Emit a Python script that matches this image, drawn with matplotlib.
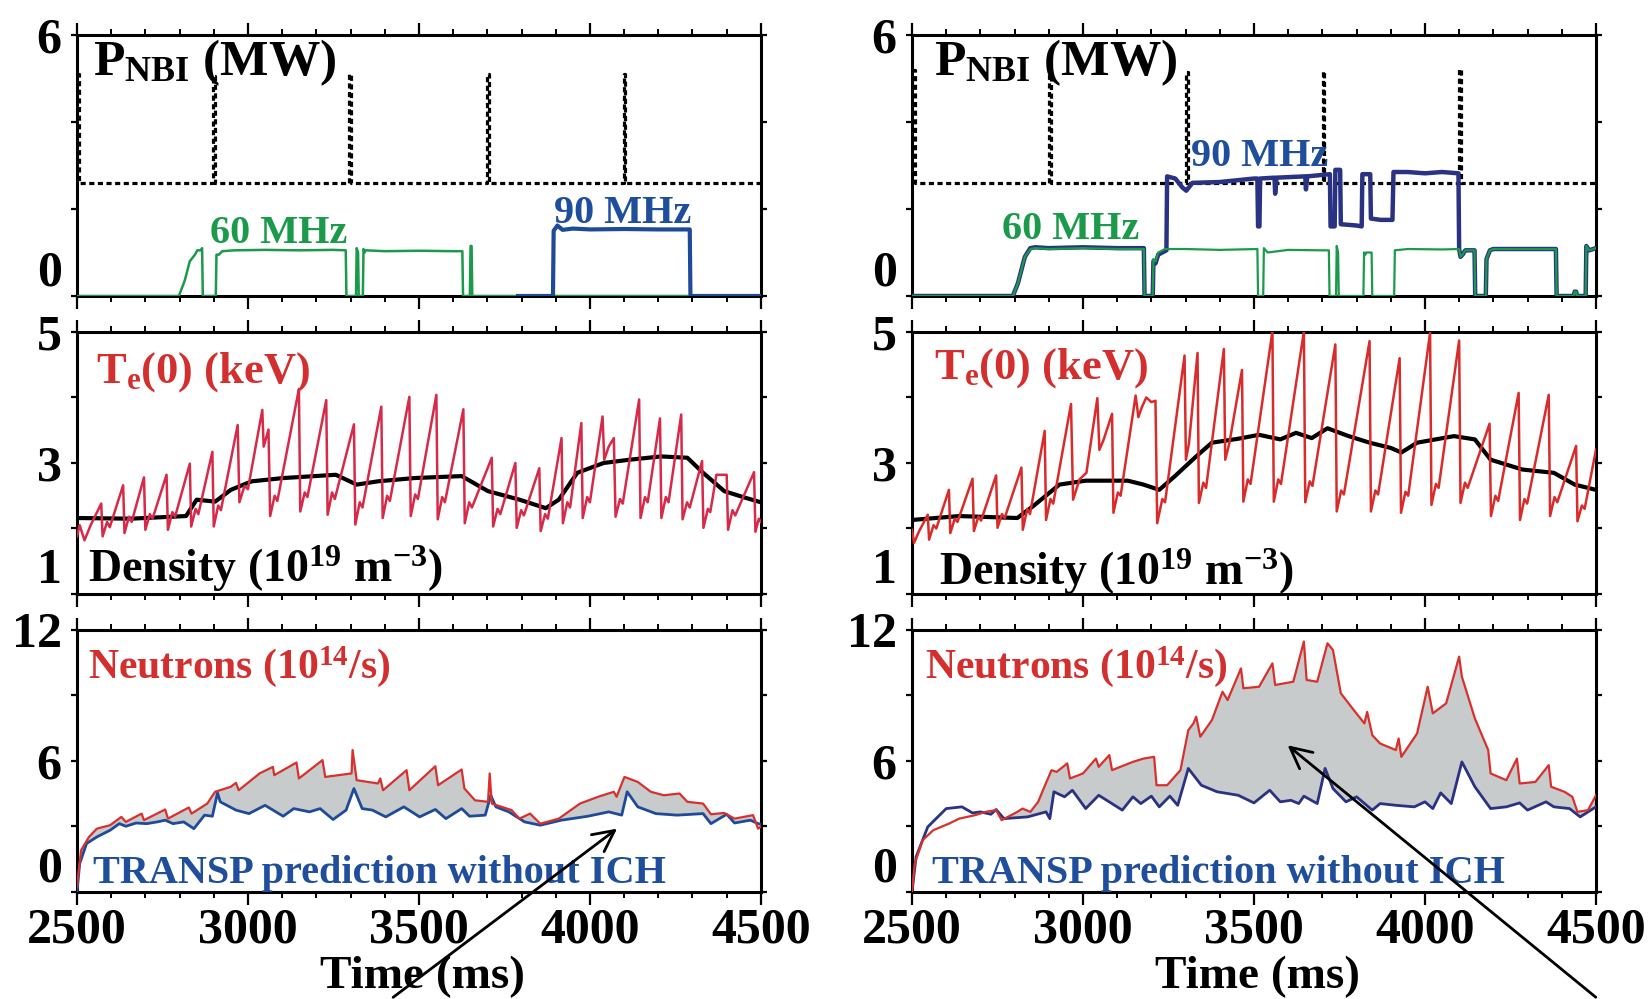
import numpy as np
import matplotlib
matplotlib.use('Agg')
import matplotlib.pyplot as plt
from matplotlib.ticker import MultipleLocator

plt.rcParams['font.family'] = ['Liberation Serif', 'DejaVu Serif']
plt.rcParams['font.weight'] = 'bold'
plt.rcParams['mathtext.fontset'] = 'custom'
plt.rcParams['mathtext.rm'] = 'Liberation Serif:bold'
plt.rcParams['mathtext.it'] = 'Liberation Serif:bold'
plt.rcParams['mathtext.bf'] = 'Liberation Serif:bold'

# ---------------- data (time in ms) ----------------
# NBI power (MW)
nbi_left_t = [2500, 2506, 2506, 2899, 2899, 2905, 2905, 3296, 3296, 3302, 3302, 3699, 3699, 3704, 3704, 4099, 4099, 4104, 4104, 4500]
nbi_left_p = [5.1, 5.1, 2.6, 2.6, 5.05, 5.05, 2.6, 2.6, 5.1, 5.1, 2.6, 2.6, 5.1, 5.1, 2.6, 2.6, 5.1, 5.1, 2.6, 2.6]
nbi_right_t = [2500, 2508, 2508, 2901, 2901, 2906, 2906, 3301, 3301, 3306, 3306, 3701, 3701, 3706, 3706, 4100, 4100, 4106, 4106, 4500]
nbi_right_p = [5.2, 5.2, 2.6, 2.6, 5.2, 5.2, 2.6, 2.6, 5.15, 5.15, 2.6, 2.6, 5.18, 5.18, 2.6, 2.6, 5.22, 5.22, 2.6, 2.6]

# 60 MHz ICH power (MW)
rf60_left_t = [2500, 2798, 2815, 2830, 2845, 2852, 2862, 2866, 2868, 2906, 2908, 2915, 2925, 2960, 3050, 3150, 3250, 3286, 3288, 3316,
               3318, 3322, 3324, 3336, 3338, 3341, 3345, 3400, 3500, 3600, 3627, 3629, 3649, 3651, 3654, 3656, 4500]
rf60_left_p = [0, 0, 0.35, 0.8, 0.95, 1.05, 1.05, 1.1, 0, 0, 0.95, 0.95, 1.03, 1.05, 1.06, 1.05, 1.06, 1.05, 0, 0,
               1.1, 1.0, 0, 0, 1.08, 1.0, 1.05, 1.03, 1.04, 1.03, 1.03, 0, 0, 1.15, 1.15, 0, 0]
rf60_right_t = [2500, 2795, 2810, 2830, 2846, 2860, 2900, 3000, 3100, 3178, 3180, 3204, 3206, 3212, 3220, 3240, 3300, 3400, 3510, 3512,
                3527, 3529, 3540, 3600, 3700, 3719, 3721, 3740, 3742, 3746, 3748, 3820, 3822, 3826, 3828, 3844, 3846, 3910, 3912, 3950,
                4050, 4100, 4104, 4110, 4118, 4145, 4147, 4178, 4180, 4190, 4200, 4300, 4383, 4385, 4435, 4438, 4442, 4445, 4470, 4472,
                4480, 4500]
rf60_right_p = [0, 0, 0.3, 0.9, 1.08, 1.1, 1.08, 1.1, 1.08, 1.08, 0, 0, 0.85, 0.8, 1.0, 1.08, 1.08, 1.06, 1.08, 0,
                0, 1.1, 1.0, 1.06, 1.05, 1.05, 0, 0, 1.15, 1.0, 0, 0, 1.0, 0.95, 1.0, 1.0, 0, 0, 1.05, 1.08,
                1.07, 1.08, 0.9, 0.95, 1.05, 1.05, 0, 0, 0.85, 1.05, 1.08, 1.08, 1.08, 0, 0, 0.1, 0.1, 0, 0, 1.15,
                1.05, 1.1]

# 90 MHz ICH power (MW)
rf90_left_t = [3790, 3892, 3894, 3905, 3920, 3950, 4000, 4100, 4200, 4292, 4294, 4500]
rf90_left_p = [0, 0, 1.5, 1.62, 1.52, 1.55, 1.53, 1.54, 1.53, 1.53, 0, 0]
rf90_right_t = [2500, 2795, 2810, 2830, 2846, 2860, 2900, 3000, 3100, 3178, 3180, 3204, 3206, 3212, 3220, 3244, 3246, 3270, 3290, 3302,
                3320, 3400, 3500, 3510, 3512, 3516, 3518, 3560, 3562, 3566, 3650, 3652, 3656, 3722, 3724, 3736, 3738, 3752, 3754, 3800,
                3815, 3817, 3840, 3842, 3870, 3905, 3908, 3950, 4000, 4050, 4098, 4100, 4104, 4110, 4118, 4145, 4147, 4178, 4180, 4190,
                4200, 4300, 4383, 4385, 4435, 4438, 4442, 4445, 4470, 4472, 4480, 4500]
rf90_right_p = [0, 0, 0.3, 0.9, 1.1, 1.12, 1.1, 1.12, 1.1, 1.1, 0, 0, 0.8, 0.75, 0.95, 1.05, 2.75, 2.7, 2.5, 2.42,
                2.6, 2.62, 2.7, 2.7, 1.6, 1.6, 2.7, 2.72, 2.35, 2.72, 2.75, 2.45, 2.75, 2.8, 1.6, 1.6, 2.9, 2.9, 1.65, 1.62,
                1.6, 2.8, 2.8, 1.78, 1.75, 1.75, 2.85, 2.85, 2.82, 2.85, 2.82, 1.08, 0.9, 0.95, 1.05, 1.05, 0, 0, 0.85, 1.05,
                1.08, 1.08, 1.08, 0, 0, 0.1, 0.1, 0, 0, 1.15, 1.05, 1.1]

# Central electron temperature Te(0) (keV)
te_left_t = [2500, 2508, 2514, 2522, 2540, 2571, 2575, 2588, 2596, 2635, 2639, 2652, 2660, 2696, 2700, 2713, 2721, 2762,
             2766, 2779, 2787, 2830, 2834, 2847, 2855, 2896, 2900, 2913, 2921, 2970, 2975, 2990, 3000, 3042,
             3046, 3060, 3065, 3078, 3086, 3149, 3153, 3166, 3174, 3229, 3233, 3246, 3254, 3310,
             3314, 3327, 3335, 3390, 3394, 3407, 3415, 3472, 3476, 3489, 3497, 3551, 3555, 3568, 3576, 3630,
             3634, 3647, 3655, 3713, 3717, 3730, 3738, 3782, 3786, 3799, 3807, 3852, 3856, 3869, 3877, 3917,
             3921, 3934, 3942, 3975, 3979, 3992, 4000, 4037, 4042, 4055, 4070, 4075, 4088, 4096, 4144,
             4148, 4161, 4169, 4205, 4209, 4222, 4230, 4267, 4271, 4284, 4292, 4328,
             4332, 4345, 4352, 4370, 4400, 4404, 4417, 4425, 4480, 4484, 4494, 4500]
te_left_v = [1.88, 2.05, 1.95, 1.82, 2.05, 2.38, 1.88, 2.10, 2.02, 2.66, 1.93, 2.18, 2.10, 2.78, 1.98, 2.22, 2.15, 2.82,
             1.98, 2.25, 2.18, 2.99, 2.03, 2.30, 2.22, 3.17, 2.03, 2.35, 2.28, 3.58, 2.40, 2.65, 2.60, 3.81,
             3.25, 3.51, 2.19, 2.50, 2.42, 4.13, 2.26, 2.55, 2.48, 3.96, 2.21, 2.55, 2.45, 3.59,
             2.06, 2.40, 2.32, 3.86, 2.16, 2.50, 2.42, 4.01, 2.19, 2.52, 2.45, 4.04, 2.14, 2.48, 2.40, 3.82,
             2.08, 2.40, 2.32, 3.08, 2.03, 2.30, 2.22, 3.00, 2.01, 2.28, 2.20, 2.92, 1.96, 2.22, 2.15, 3.38,
             2.08, 2.40, 2.32, 3.61, 2.16, 2.48, 2.40, 3.71, 3.05, 3.25, 3.38, 2.18, 2.45, 2.38, 3.97,
             2.16, 2.48, 2.40, 3.68, 2.16, 2.48, 2.40, 3.74, 2.14, 2.40, 2.32, 3.03,
             2.01, 2.30, 2.25, 2.82, 2.82, 1.98, 2.28, 2.20, 2.86, 1.95, 2.15, 2.10]
te_right_t = [2500, 2506, 2520, 2530, 2546, 2550, 2563, 2571, 2608, 2612, 2625, 2633, 2677, 2681, 2694, 2702, 2746,
              2750, 2763, 2771, 2820, 2824, 2837, 2845, 2888, 2892, 2905, 2913, 2965, 2971, 2990, 3010, 3042,
              3048, 3060, 3085, 3089, 3102, 3110, 3154, 3162, 3172, 3185, 3200, 3212, 3217, 3232, 3240, 3297,
              3301, 3310, 3335, 3339, 3352, 3360, 3412, 3416, 3428, 3465, 3469, 3482, 3490, 3554,
              3558, 3571, 3579, 3646, 3650, 3663, 3671, 3738, 3742, 3755, 3763, 3838, 3842, 3855, 3863, 3926,
              3930, 3943, 3951, 4015, 4019, 4032, 4040, 4100, 4104, 4117, 4125, 4189, 4193, 4206, 4214, 4274,
              4278, 4291, 4299, 4362, 4366, 4379, 4387, 4442, 4446, 4459, 4467, 4500]
te_right_v = [1.98, 1.78, 1.95, 2.05, 2.21, 1.83, 2.05, 2.00, 2.59, 1.93, 2.15, 2.10, 2.76, 1.96, 2.18, 2.12, 2.81,
              2.01, 2.22, 2.16, 2.93, 1.98, 2.30, 2.22, 3.49, 2.13, 2.45, 2.38, 3.90, 2.44, 2.75, 2.85, 3.99,
              3.20, 3.35, 3.75, 2.24, 2.55, 2.50, 4.03, 3.70, 3.85, 4.00, 3.93, 3.95, 2.08, 2.45, 2.40, 4.64,
              3.05, 3.30, 4.68, 2.39, 2.70, 2.62, 4.74, 3.05, 3.30, 4.42, 2.41, 2.75, 2.68, 5.01,
              2.41, 2.75, 2.68, 5.01, 2.40, 2.72, 2.65, 4.81, 2.26, 2.58, 2.52, 4.86, 2.26, 2.58, 2.52, 4.60,
              2.24, 2.56, 2.50, 4.99, 2.36, 2.68, 2.62, 4.87, 2.39, 2.70, 2.62, 3.60, 2.19, 2.50, 2.42, 4.07,
              2.13, 2.45, 2.38, 4.04, 2.19, 2.48, 2.40, 3.26, 2.11, 2.35, 2.30, 3.20]

# Line-averaged density (1e19 m^-3)
dens_left_t = [2500, 2658, 2819, 2850, 2904, 2950, 3011, 3103, 3257, 3318, 3380, 3487, 3625, 3702, 3794, 3871, 3909,
               3963, 4040, 4116, 4208, 4285, 4331, 4393, 4454, 4500]
dens_left_v = [2.16, 2.15, 2.19, 2.44, 2.41, 2.59, 2.72, 2.77, 2.82, 2.67, 2.72, 2.77, 2.80, 2.57, 2.44, 2.31, 2.44,
               2.85, 3.00, 3.05, 3.10, 3.08, 2.85, 2.57, 2.47, 2.40]
dens_right_t = [2500, 2638, 2808, 2854, 2931, 3008, 3131, 3177, 3223, 3269, 3331, 3377, 3454, 3515, 3577, 3623, 3669,
                3715, 3777, 3838, 3900, 3931, 3977, 4085, 4146, 4192, 4285, 4377, 4438, 4500]
dens_right_v = [2.13, 2.19, 2.16, 2.34, 2.67, 2.73, 2.73, 2.67, 2.59, 2.80, 3.10, 3.31, 3.37, 3.43, 3.36, 3.46, 3.38,
                3.53, 3.41, 3.31, 3.23, 3.16, 3.31, 3.41, 3.36, 3.05, 2.90, 2.85, 2.67, 2.59]

# Neutron rate (1e14 /s): measured and TRANSP prediction without ICH
neut_left_t = [2500, 2512, 2535, 2558, 2597, 2630, 2643, 2689, 2696, 2758, 2766, 2827, 2835, 2881, 2904, 2950, 2965, 2973,
               3034, 3073, 3077, 3142, 3149, 3218, 3226, 3303, 3306, 3318, 3380, 3387, 3395, 3464, 3472, 3548, 3556, 3625,
               3633, 3664, 3702, 3707, 3713, 3771, 3794, 3825, 3855, 3909, 3971, 4024, 4070, 4078, 4101, 4140, 4178, 4216,
               4262, 4285, 4331, 4354, 4393, 4423, 4477, 4492, 4500]
neut_left_v = [0.23, 1.91, 2.52, 2.90, 3.06, 3.44, 3.21, 3.59, 3.29, 3.78, 3.36, 3.87, 3.59, 4.05, 4.59, 4.82, 5.00, 4.66,
               5.43, 5.73, 5.35, 5.93, 5.20, 6.04, 5.27, 5.43, 6.50, 5.12, 4.97, 5.20, 4.66, 5.58, 4.66, 5.76, 4.89, 5.61,
               4.74, 4.20, 4.13, 5.43, 4.05, 3.75, 3.36, 3.59, 3.13, 3.36, 4.05, 4.36, 4.59, 4.36, 5.27, 5.04, 4.59, 4.43,
               4.51, 4.13, 4.05, 3.56, 3.62, 3.36, 3.52, 2.90, 3.00]
transp_left_t = [2500, 2508, 2528, 2558, 2597, 2624, 2643, 2673, 2704, 2735, 2758, 2781, 2812, 2842, 2873, 2896, 2911, 2919,
                 2965, 3003, 3050, 3103, 3134, 3180, 3211, 3249, 3287, 3310, 3334, 3364, 3403, 3456, 3502, 3548, 3579,
                 3625, 3648, 3694, 3710, 3725, 3763, 3809, 3855, 3917, 3994, 4055, 4093, 4109, 4140, 4193, 4255, 4331,
                 4354, 4400, 4423, 4469, 4492, 4500]
transp_left_v = [0.0, 1.30, 2.22, 2.52, 2.83, 3.13, 3.01, 3.16, 3.13, 3.21, 3.29, 3.13, 3.21, 2.90, 3.52, 3.47, 4.54, 4.13,
                 3.75, 3.59, 3.97, 3.47, 3.82, 3.67, 3.82, 3.32, 3.75, 4.74, 3.82, 3.75, 3.44, 3.90, 3.44, 3.78, 3.36,
                 3.82, 3.47, 3.52, 4.43, 3.90, 3.67, 3.21, 3.06, 3.29, 3.47, 3.67, 3.52, 4.59, 3.90, 3.59, 3.52, 3.59,
                 3.13, 3.56, 3.16, 3.29, 3.13, 3.10]
neut_right_t = [2500, 2508, 2531, 2562, 2608, 2638, 2685, 2715, 2746, 2762, 2808, 2823, 2846, 2869, 2885, 2908, 2923, 2954,
                2962, 3000, 3038, 3046, 3077, 3085, 3146, 3177, 3208, 3215, 3246, 3285, 3308, 3323, 3331, 3343, 3377,
                3408, 3423, 3462, 3469, 3515, 3554, 3562, 3615, 3646, 3654, 3685, 3715, 3731, 3754, 3792, 3823, 3831,
                3846, 3869, 3915, 3923, 3931, 3977, 4008, 4023, 4062, 4100, 4108, 4146, 4185, 4192, 4238, 4269, 4277,
                4323, 4362, 4369, 4408, 4431, 4446, 4477, 4500]
neut_right_v = [0.0, 1.30, 2.37, 2.83, 3.13, 3.36, 3.52, 3.67, 3.75, 3.29, 3.67, 3.82, 3.67, 4.13, 4.74, 5.58, 5.50, 5.89,
                5.20, 5.43, 6.11, 5.73, 6.27, 5.58, 5.96, 6.11, 6.19, 4.89, 4.89, 5.58, 7.41, 7.72, 8.03, 7.11, 7.87,
                9.17, 8.79, 10.24, 9.33, 9.40, 10.47, 9.48, 9.63, 11.47, 9.71, 9.63, 11.39, 11.08, 9.10, 8.33, 7.72, 8.25,
                7.18, 6.80, 6.50, 7.03, 6.19, 7.26, 9.40, 8.18, 8.64, 10.78, 9.86, 7.95, 6.50, 5.43, 5.12, 6.11, 4.97,
                5.04, 5.81, 4.82, 4.59, 4.36, 3.67, 3.75, 4.43]
transp_right_t = [2500, 2512, 2546, 2600, 2646, 2677, 2700, 2731, 2746, 2769, 2838, 2892, 2903, 2915, 2946, 2969, 3008,
                  3046, 3115, 3146, 3169, 3200, 3223, 3254, 3277, 3308, 3346, 3392, 3454, 3500, 3546, 3577, 3608, 3631,
                  3646, 3685, 3708, 3731, 3769, 3800, 3846, 3869, 3915, 3969, 4000, 4023, 4046, 4077, 4108, 4146, 4192,
                  4238, 4277, 4300, 4354, 4377, 4423, 4454, 4500]
transp_right_v = [0.0, 1.61, 2.98, 3.82, 3.90, 3.62, 3.67, 3.56, 3.78, 3.36, 3.44, 3.67, 3.36, 4.59, 4.36, 4.66, 3.82,
                  4.43, 3.75, 4.36, 4.05, 4.39, 3.90, 4.39, 3.97, 5.66, 4.89, 4.59, 4.43, 4.08, 4.66, 4.13, 4.20, 4.05,
                  4.39, 4.05, 5.66, 4.74, 4.13, 4.36, 3.75, 4.05, 3.97, 3.90, 4.13, 3.82, 4.54, 4.05, 5.96, 4.82, 3.82,
                  3.90, 4.08, 3.75, 4.13, 3.90, 3.82, 3.44, 3.90]

x_ticks = [2500, 3000, 3500, 4000, 4500]
x_labels = ['2500', '3000', '3500', '4000', '4500']

# ---------------- colours ----------------
C_GREEN = '#1a9a4a'
C_BLUE_L = '#1f4a9a'
C_BLUE_R = '#2a3283'
C_RED_TE_L = '#d62a48'
C_RED_TE_R = '#da2b2b'
C_RED = '#d8302c'
C_TXT_RED = '#d42f2f'
C_TXT_BLUE = '#1f4e9c'
C_FILL = '#c8cbcb'

fig = plt.figure(figsize=(16.48, 9.99), dpi=100)
lefts = [0.0467, 0.5534]
W = 0.415
rows = [(0.7037, 0.2613), (0.4054, 0.2623), (0.1071, 0.2623)]
axes = [[fig.add_axes([l, b, W, h]) for l in lefts] for (b, h) in rows]


def style(ax, ylim, yticks, ylabels, bottom_labels):
    ax.set_xlim(2500, 4500)
    ax.set_ylim(*ylim)
    ax.set_xticks(x_ticks)
    ax.set_xticklabels(x_labels)
    ax.xaxis.set_minor_locator(MultipleLocator(100))
    ax.set_yticks(yticks)
    ax.set_yticklabels(ylabels)
    ax.tick_params(axis='x', which='major', direction='out', length=9, width=1.6,
                   top=True, bottom=True, labelsize=36, pad=2)
    ax.tick_params(axis='x', which='minor', direction='out', length=4, width=1.4,
                   top=True, bottom=True)
    ax.tick_params(axis='y', which='major', direction='out', length=4, width=1.6,
                   left=True, right=True, labelsize=36, pad=7)
    if not bottom_labels:
        ax.tick_params(axis='x', labelbottom=False)
    for sp in ax.spines.values():
        sp.set_linewidth(2.2)
    lbls = ax.get_yticklabels()
    lbls[0].set_va('bottom')


# ---- top row: power ----
for j, (nt, npow, gt, gp, bt, bp, bcol, blw) in enumerate([
        (nbi_left_t, nbi_left_p, rf60_left_t, rf60_left_p, rf90_left_t, rf90_left_p, C_BLUE_L, 3.0),
        (nbi_right_t, nbi_right_p, rf60_right_t, rf60_right_p, rf90_right_t, rf90_right_p, C_BLUE_R, 3.2)]):
    ax = axes[0][j]
    style(ax, (0, 6), [0, 2, 4, 6], ['0', '', '', '6'], False)
    ax.plot(nt, npow, color='black', lw=2.3, ls=(0, (1.6, 1.1)), zorder=3)
    if j == 0:
        ax.plot(gt, gp, color=C_GREEN, lw=1.8, zorder=4)
        ax.plot(bt, bp, color=bcol, lw=blw, zorder=5)
    else:
        ax.plot(bt, bp, color=bcol, lw=blw, zorder=4)
        ax.plot(gt, gp, color=C_GREEN, lw=1.6, zorder=5)
    ax.text(0.023 if j == 0 else 0.032, 0.847, r'P$_{NBI}$ (MW)', transform=ax.transAxes,
            fontsize=37, fontweight='bold', color='black', va='baseline', ha='left')

axes[0][0].text(0.194, 0.203, '60 MHz', transform=axes[0][0].transAxes, fontsize=29,
                fontweight='bold', color=C_GREEN, va='baseline')
axes[0][0].text(0.697, 0.280, '90 MHz', transform=axes[0][0].transAxes, fontsize=29,
                fontweight='bold', color=C_TXT_BLUE, va='baseline')
axes[0][1].text(0.132, 0.218, '60 MHz', transform=axes[0][1].transAxes, fontsize=29,
                fontweight='bold', color=C_GREEN, va='baseline')
axes[0][1].text(0.408, 0.498, '90 MHz', transform=axes[0][1].transAxes, fontsize=29,
                fontweight='bold', color=C_TXT_BLUE, va='baseline', zorder=6)

# ---- middle row: Te and density ----
for j, (tt, tv, dt, dv, tcol) in enumerate([
        (te_left_t, te_left_v, dens_left_t, dens_left_v, C_RED_TE_L),
        (te_right_t, te_right_v, dens_right_t, dens_right_v, C_RED_TE_R)]):
    ax = axes[1][j]
    style(ax, (1, 5), [1, 2, 3, 4, 5], ['1', '', '3', '', '5'], False)
    ax.plot(dt, dv, color='black', lw=3.0, zorder=3)
    ax.plot(tt, tv, color=tcol, lw=1.8, zorder=4)
    ax.text(0.028 if j == 0 else 0.032, 0.809 if j == 0 else 0.824, r'T$_{e}$(0) (keV)',
            transform=ax.transAxes, fontsize=32, fontweight='bold', color=C_TXT_RED, va='baseline')
    ax.text(0.016 if j == 0 else 0.040, 0.046 if j == 0 else 0.034, r'Density (10$^{19}$ m$^{-3}$)',
            transform=ax.transAxes, fontsize=33, fontweight='bold', color='black', va='baseline')

# ---- bottom row: neutrons ----
for j, (rt, rv, bt, bv, bcol) in enumerate([
        (neut_left_t, neut_left_v, transp_left_t, transp_left_v, C_BLUE_L),
        (neut_right_t, neut_right_v, transp_right_t, transp_right_v, C_BLUE_R)]):
    ax = axes[2][j]
    style(ax, (0, 12), [0, 3, 6, 9, 12], ['0', '', '6', '', '12'], True)
    grid = np.union1d(rt, bt)
    r_on = np.interp(grid, rt, rv)
    b_on = np.interp(grid, bt, bv)
    ax.fill_between(grid, b_on, r_on, where=r_on >= b_on, interpolate=True,
                    color=C_FILL, lw=0, zorder=2)
    ax.plot(rt, rv, color=C_RED, lw=1.6, zorder=4)
    ax.plot(bt, bv, color=bcol, lw=2.0, zorder=3)
    ax.text(0.016 if j == 0 else 0.019, 0.817, r'Neutrons (10$^{14}$/s)', transform=ax.transAxes,
            fontsize=30, fontweight='bold', color=C_TXT_RED, va='baseline')
    ax.text(0.024 if j == 0 else 0.029, 0.034, 'TRANSP prediction without ICH', transform=ax.transAxes,
            fontsize=29, fontweight='bold', color=C_TXT_BLUE, va='baseline')
    ax.set_xlabel('Time (ms)', fontsize=34, fontweight='bold')
    ax.xaxis.set_label_coords(0.505, -0.368)
    ax.xaxis.label.set_va('baseline')

axes[2][0].annotate('', xy=(4086, 2.98), xytext=(3418, -4.9), xycoords='data', textcoords='data',
                    arrowprops=dict(arrowstyle='->', lw=2.0, color='black', mutation_scale=38),
                    annotation_clip=False, zorder=10)
axes[2][1].annotate('', xy=(3592, 6.8), xytext=(4506, -4.9), xycoords='data', textcoords='data',
                    arrowprops=dict(arrowstyle='->', lw=2.0, color='black', mutation_scale=38),
                    annotation_clip=False, zorder=10)

fig.savefig('out.png', dpi=100)
